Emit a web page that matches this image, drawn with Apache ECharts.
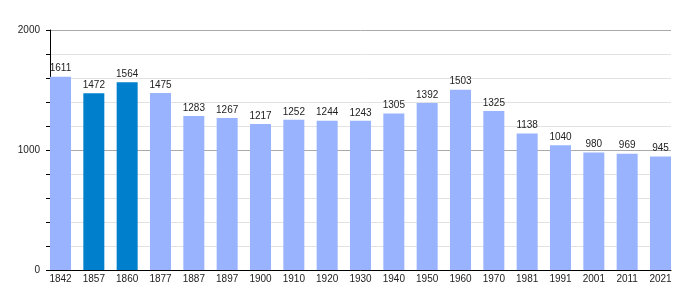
<!DOCTYPE html>
<html>
<head>
<meta charset="utf-8">
<script src="https://cdn.jsdelivr.net/npm/echarts@6/dist/echarts.min.js"></script>
<style>
  html, body { margin: 0; padding: 0; background: #fff; }
  #main { width: 700px; height: 300px; }
</style>
</head>
<body>
<div id="main"></div>
<script>
// census years and population
var years = ['1842', '1857', '1860', '1877', '1887', '1897', '1900', '1910', '1920', '1930',
  '1940', '1950', '1960', '1970', '1981', '1991', '2001', '2011', '2021'];
var population = [1611, 1472, 1564, 1475, 1283, 1267, 1217, 1252, 1244, 1243,
  1305, 1392, 1503, 1325, 1138, 1040, 980, 969, 945];
var highlighted = ['1857', '1860']; // darker bars
var yTicks = [0, 1000, 2000];

var lightColor = '#99b3ff';
var darkColor = '#0080cc';
var font = 'Liberation Sans, Arial, sans-serif';

var chart = echarts.init(document.getElementById('main'));

// bars live in a slightly wider grid so that the first bar touches the y axis
var step = 621 / (years.length - 1 + 21 / 33.33);
var barW = 21;
var pad = (step - barW) / 2;

var barData = [];
for (var i = 0; i < years.length; i++) {
  barData.push({
    value: population[i],
    itemStyle: { color: highlighted.indexOf(years[i]) >= 0 ? darkColor : lightColor }
  });
}

chart.setOption({
  animation: false,
  grid: [
    { left: 50, right: 29, top: 30, bottom: 30 },
    { left: 50 - pad, right: 29 - pad, top: 30, bottom: 30 }
  ],
  xAxis: [
    {
      gridIndex: 0, type: 'value', min: 0, max: 1,
      axisLine: { show: true, lineStyle: { color: '#000', width: 1 } },
      axisTick: { show: false }, axisLabel: { show: false }, splitLine: { show: false }
    },
    {
      gridIndex: 1, type: 'category', data: years,
      axisLine: { show: false }, axisTick: { show: false },
      axisLabel: { color: '#222', fontSize: 10, fontFamily: font, margin: 4 }
    }
  ],
  yAxis: [
    {
      gridIndex: 0, type: 'value', min: yTicks[0], max: yTicks[yTicks.length - 1], interval: 1000,
      axisLine: { show: true, lineStyle: { color: '#000', width: 1 } },
      axisTick: { show: true, length: 4, lineStyle: { color: '#000' } },
      minorTick: { show: true, splitNumber: 5, length: 4, lineStyle: { color: '#000' } },
      splitLine: { show: true, lineStyle: { color: '#aaa' } },
      minorSplitLine: { show: true, lineStyle: { color: '#e2e2e2' } },
      axisLabel: {
        color: '#222', fontSize: 10, fontFamily: font, margin: 10,
        formatter: function (v) { return String(v); }
      }
    },
    {
      gridIndex: 1, type: 'value', min: 0, max: 2000, show: false
    }
  ],
  series: [{
    type: 'bar',
    xAxisIndex: 1,
    yAxisIndex: 1,
    barWidth: barW,
    data: barData,
    label: {
      show: true, position: 'top', distance: 3,
      color: '#222', fontSize: 10, fontFamily: font
    }
  }]
});
</script>
</body>
</html>
